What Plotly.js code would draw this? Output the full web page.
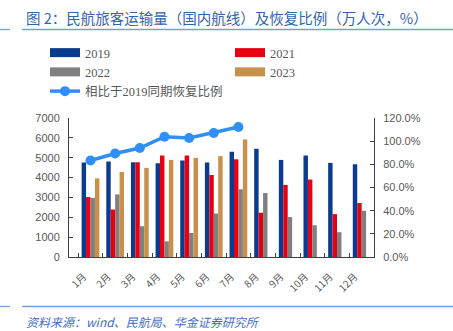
<!DOCTYPE html>
<html>
<head>
<meta charset="utf-8">
<script src="https://cdn.plot.ly/plotly-3.0.1.min.js"></script>
<style>html,body{margin:0;padding:0;background:#fff;}#chart{width:453px;height:331px;}</style>
</head>
<body>
<div id="chart"></div>
<script>
const months = ["1月","2月","3月","4月","5月","6月","7月","8月","9月","10月","11月","12月"];
const v2019 = [4760, 4810, 4770, 4720, 4860, 4760, 5300, 5450, 4890, 5110, 4740, 4670];
const v2021 = [3020, 2390, 4770, 5110, 5110, 4130, 4920, 2230, 3630, 3900, 2160, 2720];
const v2022 = [2970, 3150, 1550, 790, 1210, 2190, 3410, 3220, 2010, 1600, 1250, 2330];
const v2023 = [3960, 4280, 4490, 4890, 4990, 5080, 5920, null, null, null, null, null];
const recovery = [0.833, 0.893, 0.941, 1.038, 1.027, 1.071, 1.122];
const seriesNames = ["2019", "2021", "2022", "2023", "相比于2019同期恢复比例"];
const title = "图 2：民航旅客运输量（国内航线）及恢复比例（万人次，%）";
const source = "资料来源：wind、民航局、华金证券研究所";

const colors = ["#0b3b8f", "#e60012", "#808080", "#c8904b"];
const lineColor = "#2f8ff5";
const barVals = [v2019, v2021, v2022, v2023];

const traces = [];
barVals.forEach((vals, i) => {
  traces.push({type: "bar", name: seriesNames[i], x: months, y: vals,
    marker: {color: colors[i], line: {width: 0}}, showlegend: false, hoverinfo: "skip"});
});
// legend-only entries (flat swatches like the reference)
barVals.forEach((vals, i) => {
  traces.push({type: "scatter", mode: "lines", name: seriesNames[i], x: [null], y: [null],
    line: {color: colors[i], width: 9}, showlegend: true, hoverinfo: "skip"});
});
traces.push({type: "scatter", mode: "lines+markers", name: seriesNames[4],
  x: months.slice(0, recovery.length), y: recovery, yaxis: "y2",
  line: {color: lineColor, width: 3.5}, marker: {color: lineColor, size: 10}, showlegend: true});

const axisColor = "#404040";
const tickFont = {family: "Liberation Sans, Arial, sans-serif", size: 11, color: "#595959"};

function px2x(px) { return (px - 69) / 305; }
function py2y(py) { return (257 - py) / 139; }

const layout = {
  width: 453, height: 331,
  margin: {l: 69, r: 79, t: 118, b: 74},
  paper_bgcolor: "#fff", plot_bgcolor: "#fff",
  barmode: "group", bargap: 0.28, bargroupgap: 0,
  showlegend: true,
  legend: {orientation: "h", x: px2x(45), xanchor: "left", y: py2y(38), yanchor: "top",
    entrywidth: 140, entrywidthmode: "pixels", traceorder: "normal",
    font: {family: "Liberation Serif, Noto Sans CJK SC, serif", size: 12.5, color: "#595959"},
    bgcolor: "rgba(0,0,0,0)", itemwidth: 30, tracegroupgap: 0},
  xaxis: {type: "category", showgrid: false, showline: true, linecolor: axisColor, linewidth: 1,
    ticks: "inside", ticklen: 4, tickcolor: axisColor, tickson: "boundaries",
    tickangle: -45, ticklabelshift: -7, ticklabelstandoff: 9,
    tickfont: {family: "Noto Sans CJK SC, Liberation Sans, sans-serif", size: 10, color: "#595959"},
    zeroline: false, fixedrange: true},
  yaxis: {range: [0, 7000], dtick: 1000, showgrid: false, showline: true, linecolor: axisColor,
    ticks: "inside", ticklen: 4, tickcolor: axisColor, tickfont: tickFont, zeroline: false,
    ticklabelstandoff: 6, fixedrange: true},
  yaxis2: {range: [0, 1.2], dtick: 0.2, tickformat: ".1%", overlaying: "y", side: "right",
    showgrid: false, showline: true, linecolor: axisColor, ticks: "inside", ticklen: 4,
    tickcolor: axisColor, tickfont: tickFont, zeroline: false, ticklabelstandoff: 6, fixedrange: true},
  annotations: [
    {text: title, xref: "paper", yref: "paper", x: px2x(24), y: py2y(17),
      xanchor: "left", yanchor: "middle", showarrow: false,
      font: {family: "Noto Sans CJK SC, sans-serif", size: 14.5, color: "#3563ad"}},
    {text: "<i>" + source + "</i>", xref: "paper", yref: "paper", x: px2x(24), y: py2y(321),
      xanchor: "left", yanchor: "middle", showarrow: false,
      font: {family: "Noto Sans CJK SC, sans-serif", size: 12, color: "#3f6fc0"}}
  ],
  shapes: [
    {type: "line", xref: "paper", yref: "paper", x0: px2x(0), x1: px2x(10), y0: py2y(29.5), y1: py2y(29.5), line: {color: "#6fa3d8", width: 1.3}},
    {type: "line", xref: "paper", yref: "paper", x0: px2x(22), x1: px2x(453), y0: py2y(29.5), y1: py2y(29.5), line: {color: "#6fa3d8", width: 1.3}},
    {type: "line", xref: "paper", yref: "paper", x0: px2x(0), x1: px2x(10), y0: py2y(306.5), y1: py2y(306.5), line: {color: "#6fa3d8", width: 1.3}},
    {type: "line", xref: "paper", yref: "paper", x0: px2x(22), x1: px2x(453), y0: py2y(306.5), y1: py2y(306.5), line: {color: "#6fa3d8", width: 1.3}}
  ]
};

Plotly.newPlot("chart", traces, layout, {displayModeBar: false, staticPlot: true});
</script>
</body>
</html>
